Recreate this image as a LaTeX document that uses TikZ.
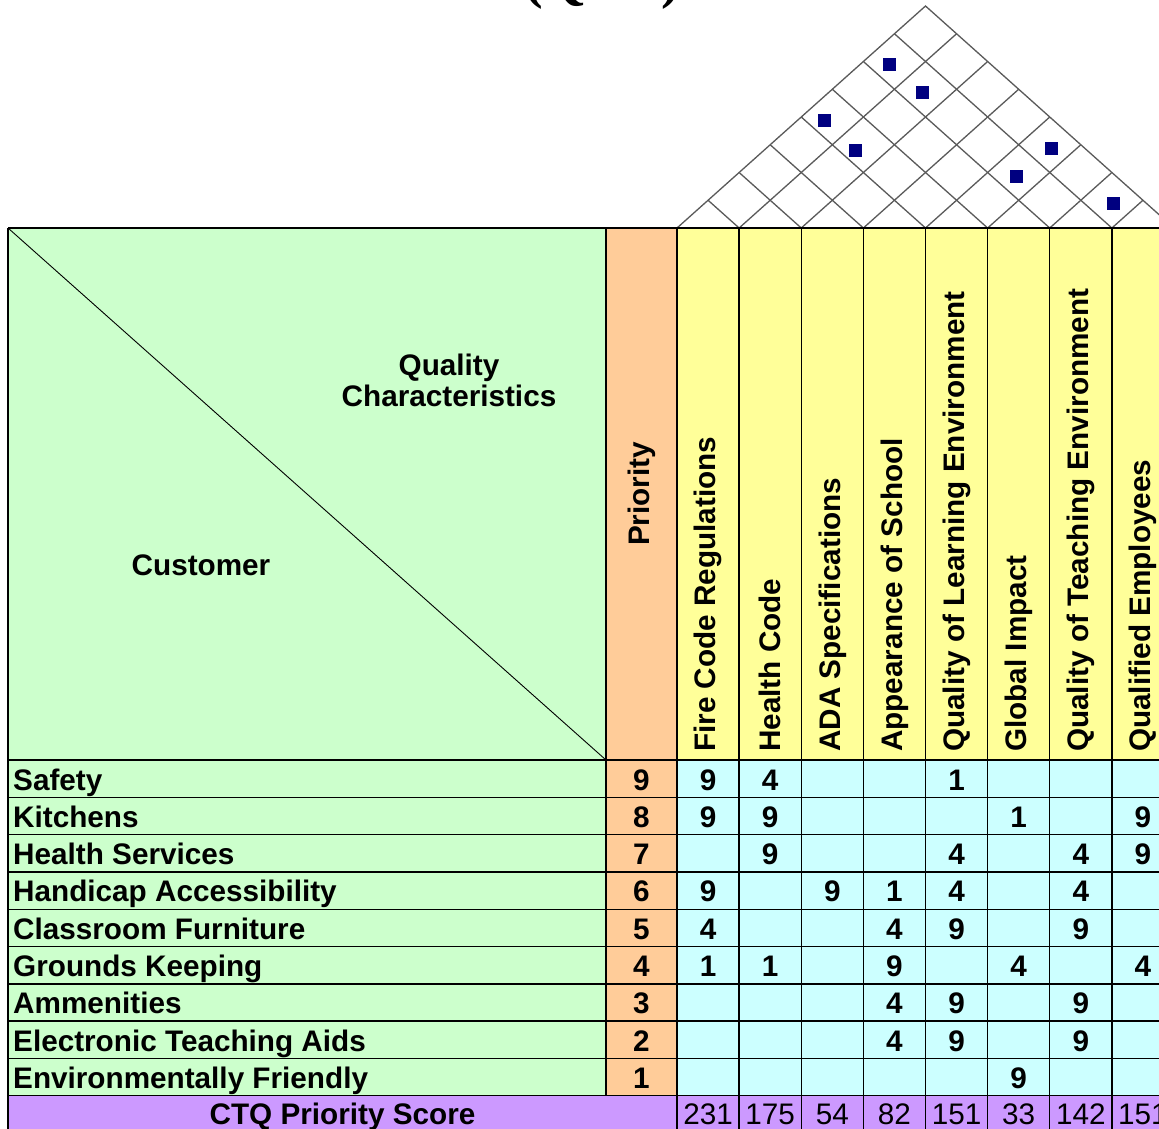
\documentclass[tikz,border=0pt]{standalone}
\usepackage{fontspec}
\setmainfont{Liberation Sans}
\newfontfamily\titlefont{Liberation Serif}
\definecolor{qgreen}{HTML}{CCFFCC}
\definecolor{qorange}{HTML}{FFCC99}
\definecolor{qyellow}{HTML}{FFFF99}
\definecolor{qcyan}{HTML}{CCFFFF}
\definecolor{qpurple}{HTML}{CC99FF}
\definecolor{qnavy}{HTML}{000080}
\definecolor{roofgray}{HTML}{5A5A5A}
\begin{document}
\begin{tikzpicture}[x=1pt,y=-1pt,
  gridline/.style={draw=black,line width=1.4pt},
  roofline/.style={draw=roofgray,line width=1.3pt},
  boldtxt/.style={font=\bfseries\fontsize{29.7}{31}\selectfont,inner sep=0pt},
  cellnum/.style={boldtxt,anchor=base},
  rowlabel/.style={boldtxt,anchor=base west},
  headtxt/.style={boldtxt,rotate=90,anchor=west},
  scoretxt/.style={font=\fontsize{29.7}{31}\selectfont,inner sep=0pt,anchor=base},
  corr/.style={fill=qnavy,minimum size=13pt,inner sep=0pt,draw=none}]
\useasboundingbox (0,0) rectangle (1159,1129);
\clip (0,0) rectangle (1159,1129);

% title fragment
\node[font=\titlefont\bfseries\fontsize{56}{60}\selectfont,anchor=base,inner sep=0pt] (title) at (602,-2) {(QFD)};

% fills
\fill[qgreen] (8,228) rectangle (606,1095.7);
\fill[qorange] (606,228) rectangle (677,1095.7);
\fill[qyellow] (677,228) rectangle (1174,760);
\fill[qcyan] (677,760) rectangle (1174,1095.7);
\fill[qpurple] (8,1095.7) rectangle (1174,1140);

% roof
\fill[white] (677,228) -- (925.5,6) -- (1174,228) -- cycle;
\draw[roofline] (677,228) -- (925.5,6) -- (1174,228);
\foreach \k in {1,...,7} {
  \draw[roofline] ({677+62.125*\k},228) -- ({677+62.125*(\k+8)/2},{228-27.75*(8-\k)});
  \draw[roofline] ({677+62.125*\k},228) -- ({677+62.125*\k/2},{228-27.75*\k});
}
% correlation marks (pair of columns, small offset inside the diamond)
\foreach \a/\b/\dx/\dy [count=\n] in {1/7/-5/3.5, 2/7/-2.8/3.5, 1/5/-7.4/3.7, 2/5/-7.4/5.3, 5/8/1.5/3.5, 5/7/-2/4.2, 7/8/1.4/3} {
  \node[corr] (m\n) at ({677+62.125*(\a+\b-1)/2+\dx},{228-27.75*(\b-\a)+\dy}) {};
}

% grid
\draw[gridline] (8,228) -- (1174,228);
\foreach \i in {0,...,9} {
  \draw[gridline] (8,{760+37.3*\i}) -- (1174,{760+37.3*\i});
}
\draw[gridline] (8,228) -- (8,1140);
\draw[gridline] (606,228) -- (606,1095.7);
\foreach \k in {0,...,7} {
  \draw[gridline] ({677+62.125*\k},228) -- ({677+62.125*\k},1140);
}
\draw[line width=0.9pt] (8,228) -- (606,760);

% header texts
\node[boldtxt,align=center] (qc) at (449,380) {Quality\\Characteristics};
\node[boldtxt] (cust) at (201,565) {Customer};
\node[boldtxt,rotate=90] (prio) at (641.5,494) {Priority};
\foreach \j/\lab in {1/Fire Code Regulations,2/Health Code,3/ADA Specifications,4/Appearance of School,5/Quality of Learning Environment,6/Global Impact,7/Quality of Teaching Environment,8/Qualified Employees} {
  \node[headtxt] (h\j) at ({677+62.125*(\j-0.5)},752) {\lab};
}

% rows
\foreach \i/\lab/\p in {1/Safety/9,2/Kitchens/8,3/Health Services/7,4/Handicap Accessibility/6,5/Classroom Furniture/5,6/Grounds Keeping/4,7/Ammenities/3,8/Electronic Teaching Aids/2,9/Environmentally Friendly/1} {
  \node[rowlabel] (r\i) at (13,{760+37.3*(\i-1)+30}) {\lab};
  \node[cellnum] (p\i) at (641.5,{760+37.3*(\i-1)+30}) {\p};
}

% matrix values
\foreach \i/\j/\v in {1/1/9,1/2/4,1/5/1,
  2/1/9,2/2/9,2/6/1,2/8/9,
  3/2/9,3/5/4,3/7/4,3/8/9,
  4/1/9,4/3/9,4/4/1,4/5/4,4/7/4,
  5/1/4,5/4/4,5/5/9,5/7/9,
  6/1/1,6/2/1,6/4/9,6/6/4,6/8/4,
  7/4/4,7/5/9,7/7/9,
  8/4/4,8/5/9,8/7/9,
  9/6/9} {
  \node[cellnum] (c\i-\j) at ({677+62.125*(\j-0.5)},{760+37.3*(\i-1)+30}) {\v};
}

% score row
\node[cellnum] (ctq) at (342.5,{1095.7+29}) {CTQ Priority Score};
\foreach \j/\s in {1/231,2/175,3/54,4/82,5/151,6/33,7/142,8/151} {
  \node[scoretxt] (s\j) at ({677+62.125*(\j-0.5)},{1095.7+29}) {\s};
}
\end{tikzpicture}
\end{document}
